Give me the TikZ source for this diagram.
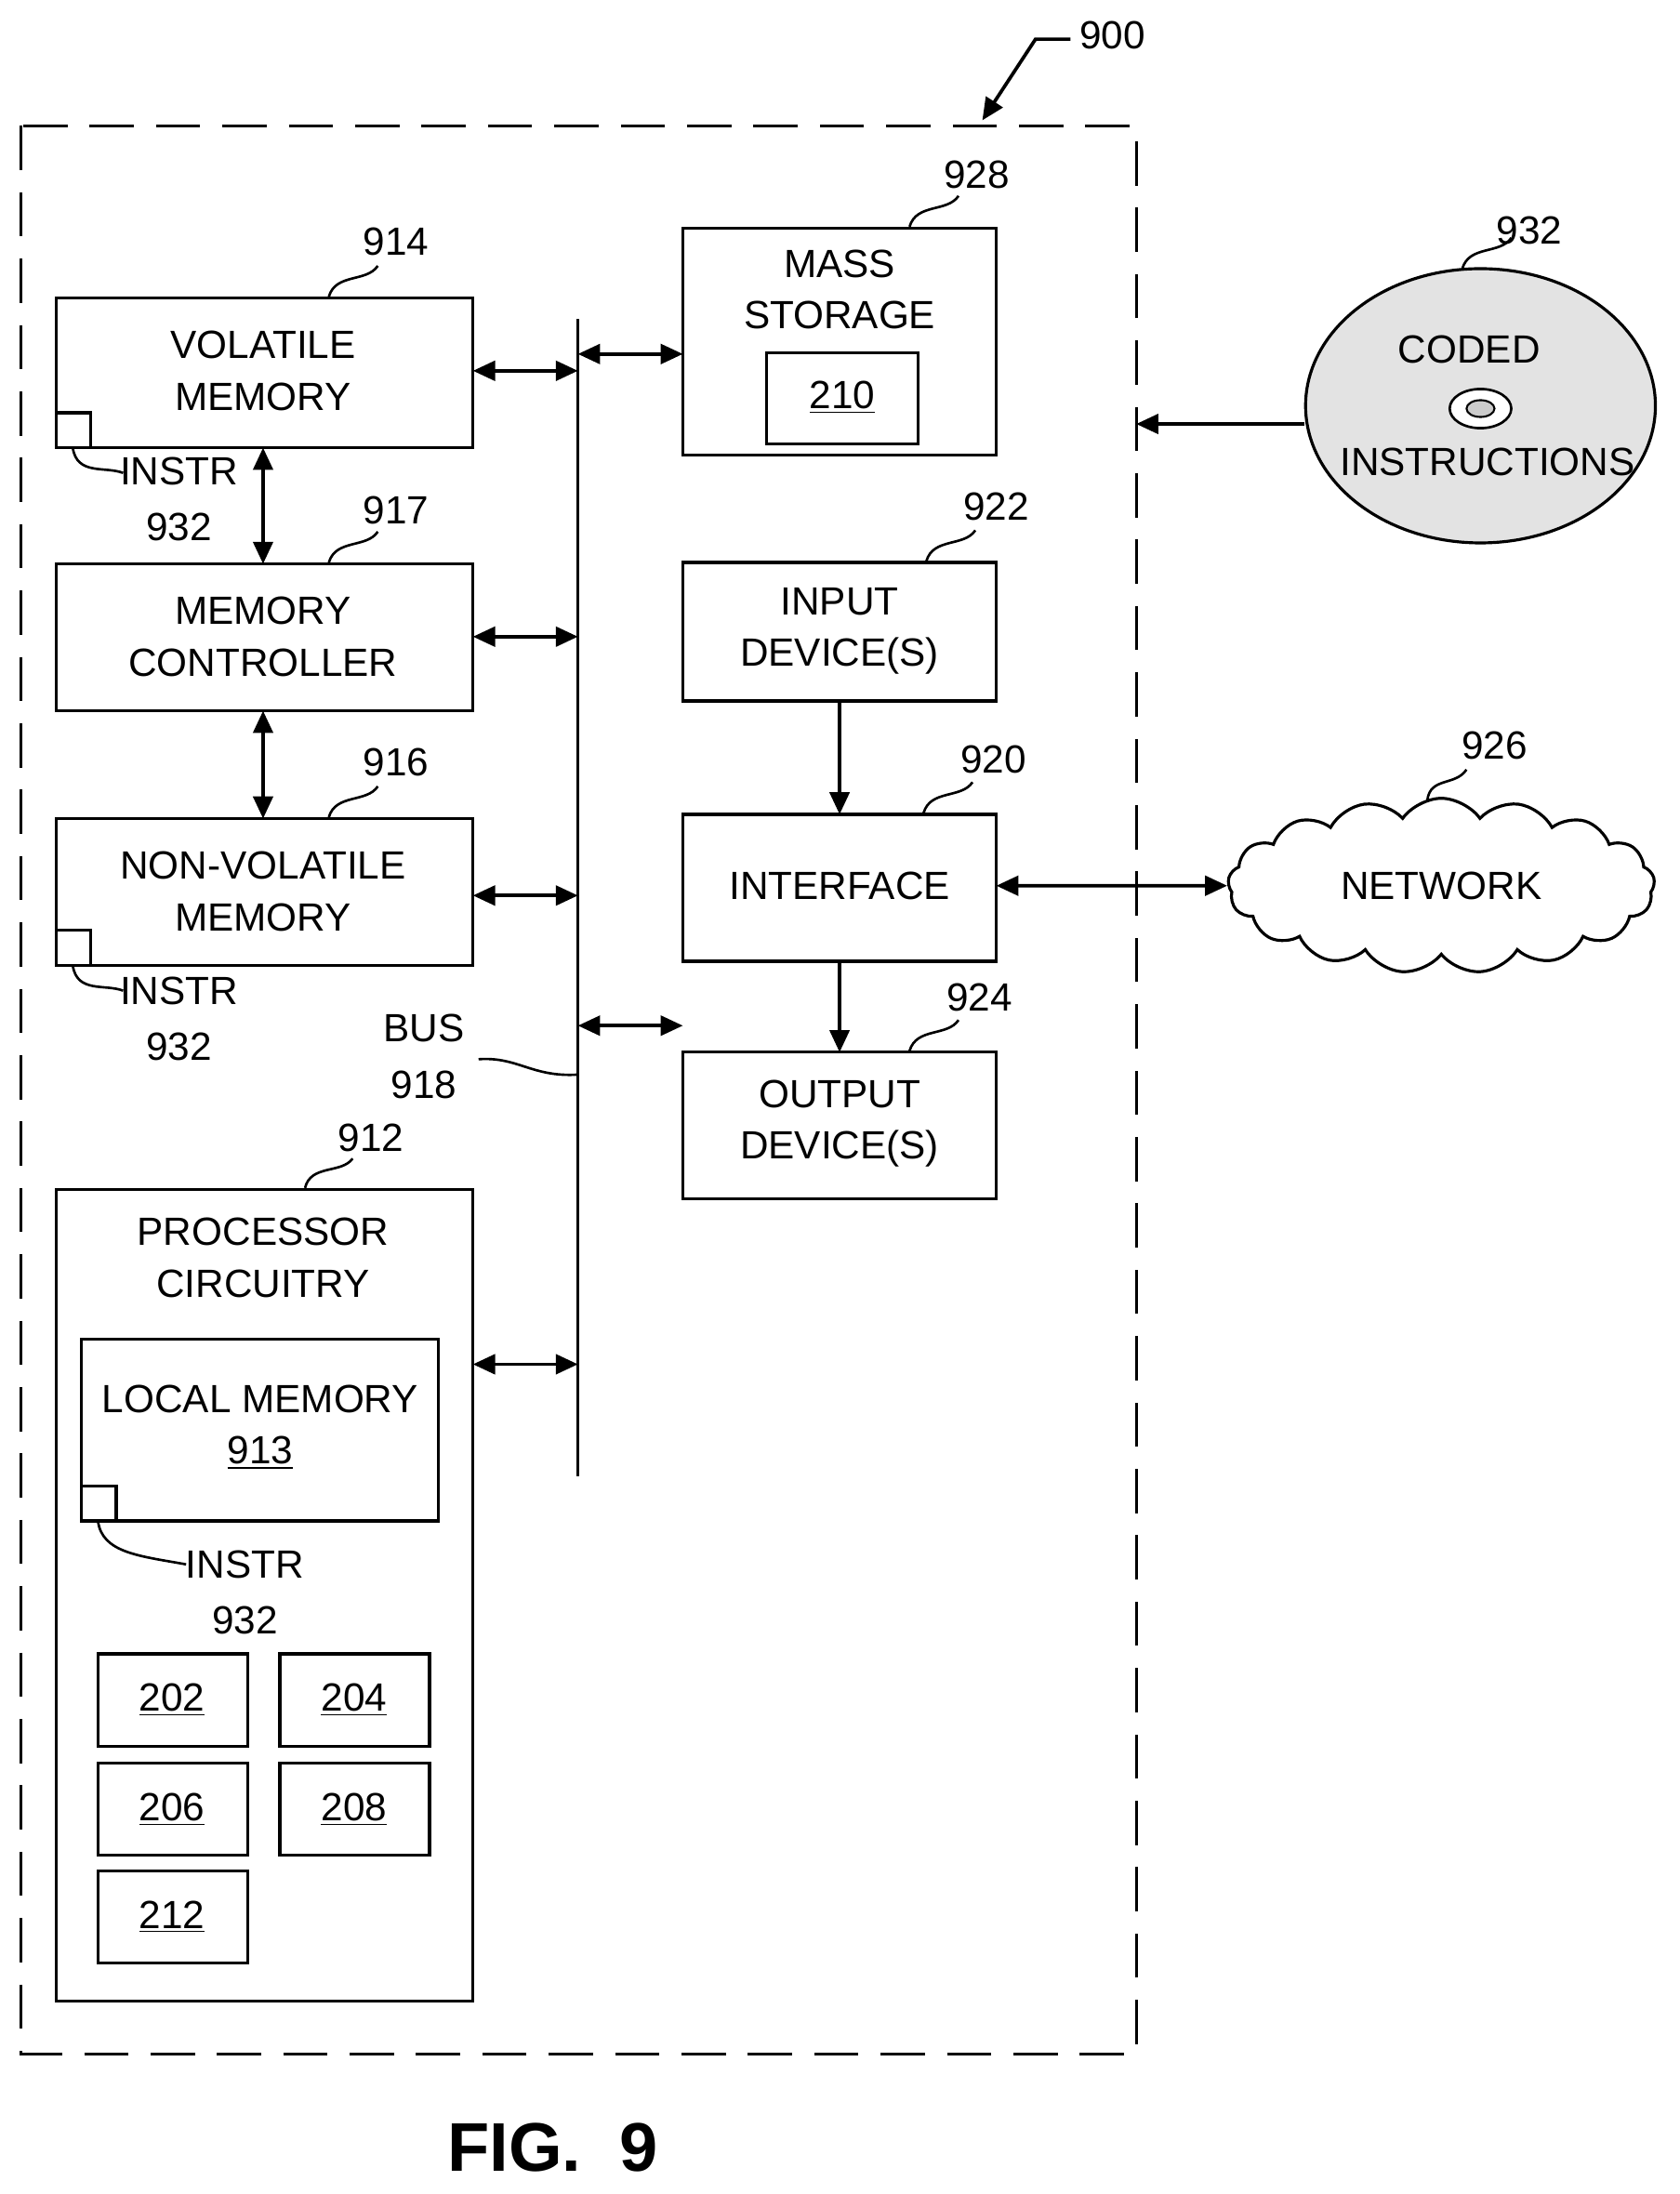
\documentclass[tikz,border=0pt]{standalone}
\usepackage{fontspec}
\setmainfont{Liberation Sans}
\usetikzlibrary{shapes.symbols,arrows.meta}
\begin{document}
\begin{tikzpicture}[x=0.02cm,y=-0.02cm,
  box/.style={draw,line width=1.2pt},
  txt/.style={font=\fontsize{16}{19}\selectfont,align=center,inner sep=0},
  dbl/.style={line width=1.4pt,{Triangle[length=9pt,width=8pt]}-{Triangle[length=9pt,width=8pt]}},
  one/.style={line width=1.4pt,-{Triangle[length=9pt,width=8pt]}},
  lead/.style={line width=1pt}]
\useasboundingbox (0,0) rectangle (1200,1568);
\draw[line width=1.2pt,dash pattern=on 18pt off 9pt] (15,90) rectangle (812,1468);
\node[txt] (l900) at (795,25) {900};
\coordinate (a900) at (765,28);
\draw[one] (a900) -- (740,28) -- (702,86);
% left column
\draw[box] (40,213) rectangle (338,320);
\node[txt] (vm) at (188,265) {VOLATILE\\[2pt]MEMORY};
\draw[box] (40,295) rectangle (65,320);
\node[txt] (l914) at (283,173) {914};
\draw[lead] (235,212) .. controls (240,195) and (262,202) .. (270,190);
\node[txt] (i1) at (128,337) {INSTR};
\node[txt] (n1) at (128,377) {932};
\draw[lead] (52,320) .. controls (55,340) and (75,333) .. (88,338);
\draw[box] (40,403) rectangle (338,508);
\node[txt] (mc) at (188,455) {MEMORY\\[2pt]CONTROLLER};
\node[txt] (l917) at (283,365) {917};
\draw[lead] (235,402) .. controls (240,385) and (262,392) .. (270,380);
\draw[box] (40,585) rectangle (338,690);
\node[txt] (nv) at (188,637) {NON-VOLATILE\\[2pt]MEMORY};
\draw[box] (40,665) rectangle (65,690);
\node[txt] (l916) at (283,545) {916};
\draw[lead] (235,584) .. controls (240,567) and (262,574) .. (270,562);
\node[txt] (i2) at (128,708) {INSTR};
\node[txt] (n2) at (128,748) {932};
\draw[lead] (52,690) .. controls (55,710) and (75,703) .. (88,708);
\draw[dbl] (188,320) -- (188,403);
\draw[dbl] (188,508) -- (188,585);
% bus
\draw[line width=1.4pt] (413,228) -- (413,1055);
\draw[dbl] (338,265) -- (413,265);
\draw[dbl] (338,455) -- (413,455);
\draw[dbl] (338,640) -- (413,640);
\draw[dbl] (338,975) -- (413,975);
\draw[dbl] (413,253) -- (488,253);
\draw[dbl] (413,733) -- (488,733);
\node[txt] (bus) at (303,735) {BUS};
\node[txt] (n918) at (303,775) {918};
\draw[lead] (342,757) .. controls (370,755) and (380,770) .. (413,768);
% processor
\draw[box] (40,850) rectangle (338,1430);
\node[txt] (pc) at (188,899) {PROCESSOR\\[2pt]CIRCUITRY};
\node[txt] (l912) at (265,813) {912};
\draw[lead] (218,849) .. controls (222,832) and (244,839) .. (252,828);
\draw[box] (58,957) rectangle (313,1087);
\node[txt] (lm) at (186,1020) {LOCAL MEMORY\\[2pt]\underline{913}};
\draw[box] (58,1062) rectangle (83,1087);
\node[txt] (i3) at (175,1118) {INSTR};
\node[txt] (n3) at (175,1158) {932};
\draw[lead] (70,1087) .. controls (73,1110) and (100,1112) .. (133,1118);
\foreach \nm/\x/\y in {202/70/1182,204/200/1182,206/70/1260,208/200/1260,212/70/1337}{
  \draw[box] (\x,\y) rectangle ++(107,66);
  \node[txt] (b\nm) at (\x+53,\y+33) {\underline{\nm}};}
% right column
\draw[box] (488,163) rectangle (712,325);
\node[txt] (ms) at (600,207) {MASS\\[2pt]STORAGE};
\draw[box] (548,252) rectangle (656,317);
\node[txt] (b210) at (602,284) {\underline{210}};
\node[txt] (l928) at (698,125) {928};
\draw[lead] (650,162) .. controls (655,145) and (677,152) .. (685,140);
\draw[box] (488,402) rectangle (712,501);
\node[txt] (in) at (600,451) {INPUT\\[2pt]DEVICE(S)};
\node[txt] (l922) at (712,362) {922};
\draw[lead] (662,401) .. controls (667,384) and (689,391) .. (697,379);
\draw[box] (488,582) rectangle (712,687);
\node[txt] (if) at (600,633) {INTERFACE};
\node[txt] (l920) at (710,543) {920};
\draw[lead] (660,581) .. controls (665,564) and (687,571) .. (695,559);
\draw[box] (488,752) rectangle (712,857);
\node[txt] (out) at (600,803) {OUTPUT\\[2pt]DEVICE(S)};
\node[txt] (l924) at (700,713) {924};
\draw[lead] (650,751) .. controls (655,734) and (677,741) .. (685,729);
\draw[one] (600,501) -- (600,582);
\draw[one] (600,687) -- (600,752);
% network
\node[cloud,draw,line width=1.2pt,cloud puffs=17,cloud puff arc=110,aspect=2.4,minimum width=300\pgflinewidth,minimum width=6.1cm,minimum height=2.5cm] (net) at (1030,633) {};
\node[txt] at (net) {NETWORK};
\node[txt] (l926) at (1068,533) {926};
\draw[lead] (1020,572) .. controls (1022,555) and (1040,562) .. (1048,550);
\draw[dbl] (712,633) -- (net.west);
% disc
\draw[line width=1.2pt,fill=gray!22] (1058,290) ellipse [x radius=125,y radius=98];
\draw[line width=1pt,fill=white] (1058,292) ellipse [x radius=22,y radius=14];
\draw[line width=0.8pt,fill=gray!40] (1058,292) ellipse [x radius=10,y radius=6];
\node[txt] (cd1) at (1050,250) {CODED};
\node[txt] (cd2) at (1063,330) {INSTRUCTIONS};
\node[txt] (l932) at (1093,165) {932};
\draw[lead] (1045,192) .. controls (1050,175) and (1072,182) .. (1080,170);
\draw[one] (932,303) -- (812,303);
\node[font=\bfseries\fontsize{28}{32}\selectfont] (fig) at (395,1535) {FIG.\ \ 9};
\end{tikzpicture}
\end{document}
